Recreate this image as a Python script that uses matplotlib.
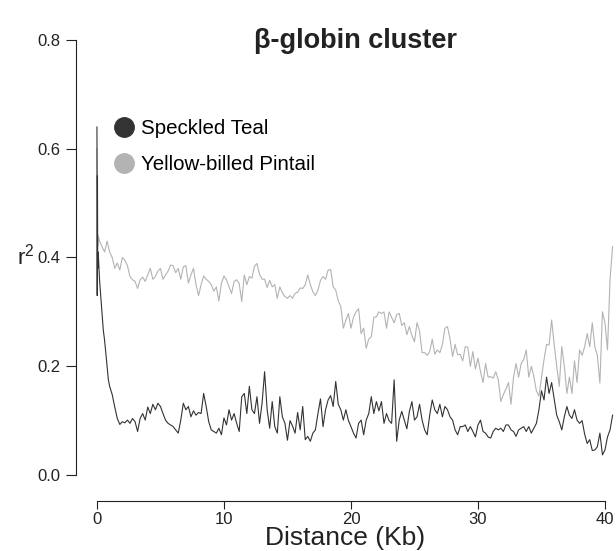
import numpy as np
import matplotlib
matplotlib.use("Agg")
import matplotlib.pyplot as plt
from matplotlib.lines import Line2D

plt.rcParams['font.family'] = ['Liberation Sans', 'DejaVu Sans']
plt.rcParams['mathtext.default'] = 'regular'

# Series labels and colours
species = ["Speckled Teal", "Yellow-billed Pintail"]
colors = ["#333333", "#b3b3b3"]

# First ~2 kb, sampled more finely (distance in Kb)
teal_x_start = [0.0, 0.02, 0.04, 0.06, 0.1, 0.2, 0.3, 0.4, 0.5, 0.6, 0.7, 0.8,
                0.9, 1.0, 1.2, 1.4, 1.6, 1.8]
teal_r2_start = [0.64, 0.33, 0.55, 0.38, 0.41, 0.36, 0.328, 0.297, 0.266, 0.248,
                 0.224, 0.199, 0.175, 0.163, 0.148, 0.125, 0.104, 0.093]

pintail_x_start = [0.0, 0.03, 0.06, 0.1, 0.2, 0.4, 0.6, 0.8, 1.0, 1.2, 1.4, 1.6, 1.8]
pintail_r2_start = [0.60, 0.46, 0.42, 0.44, 0.43, 0.42, 0.41, 0.43, 0.41, 0.40,
                    0.38, 0.39, 0.377]

# Rest of the window, one value every 0.2 Kb from 2.0 to 40.6
grid_x = np.round(np.arange(2.0, 40.61, 0.2), 1)

teal_r2 = [
    0.098, 0.096, 0.101, 0.095, 0.104,  # 2
    0.098, 0.080, 0.104, 0.113, 0.101,  # 3
    0.125, 0.113, 0.130, 0.120, 0.132,  # 4
    0.126, 0.113, 0.101, 0.095, 0.092,  # 5
    0.089, 0.083, 0.077, 0.101, 0.132,  # 6
    0.120, 0.126, 0.107, 0.118, 0.110,  # 7
    0.115, 0.113, 0.150, 0.126, 0.098,  # 8
    0.083, 0.080, 0.077, 0.086, 0.074,  # 9
    0.105, 0.092, 0.120, 0.101, 0.113,  # 10
    0.095, 0.080, 0.144, 0.150, 0.113,  # 11
    0.163, 0.120, 0.113, 0.144, 0.095,  # 12
    0.132, 0.190, 0.120, 0.086, 0.135,  # 13
    0.089, 0.077, 0.144, 0.107, 0.095,  # 14
    0.064, 0.100, 0.090, 0.077, 0.115,  # 15
    0.083, 0.126, 0.065, 0.071, 0.062,  # 16
    0.077, 0.083, 0.113, 0.140, 0.089,  # 17
    0.120, 0.138, 0.146, 0.126, 0.172,  # 18
    0.130, 0.120, 0.101, 0.120, 0.100,  # 19
    0.089, 0.077, 0.068, 0.095, 0.101,  # 20
    0.074, 0.101, 0.113, 0.144, 0.113,  # 21
    0.135, 0.118, 0.135, 0.095, 0.113,  # 22
    0.100, 0.095, 0.175, 0.062, 0.101,  # 23
    0.117, 0.101, 0.085, 0.117, 0.135,  # 24
    0.101, 0.107, 0.130, 0.101, 0.083,  # 25
    0.074, 0.110, 0.138, 0.120, 0.113,  # 26
    0.130, 0.107, 0.126, 0.120, 0.107,  # 27
    0.101, 0.083, 0.074, 0.089, 0.089,  # 28
    0.092, 0.080, 0.089, 0.080, 0.070,  # 29
    0.092, 0.101, 0.080, 0.077, 0.070,  # 30
    0.068, 0.080, 0.086, 0.083, 0.086,  # 31
    0.080, 0.092, 0.092, 0.083, 0.080,  # 32
    0.071, 0.083, 0.086, 0.089, 0.080,  # 33
    0.089, 0.077, 0.086, 0.095, 0.120,  # 34
    0.155, 0.138, 0.180, 0.150, 0.170,  # 35
    0.140, 0.110, 0.098, 0.083, 0.107,  # 36
    0.126, 0.110, 0.104, 0.120, 0.101,  # 37
    0.095, 0.100, 0.075, 0.058, 0.065,  # 38
    0.045, 0.046, 0.052, 0.077, 0.037,  # 39
    0.046, 0.070, 0.083, 0.110,         # 40
]

pintail_r2 = [
    0.400, 0.395, 0.385, 0.365, 0.359,  # 2
    0.356, 0.343, 0.359, 0.364, 0.356,  # 3
    0.368, 0.380, 0.360, 0.365, 0.375,  # 4
    0.380, 0.360, 0.368, 0.375, 0.386,  # 5
    0.385, 0.372, 0.380, 0.360, 0.383,  # 6
    0.385, 0.353, 0.368, 0.380, 0.350,  # 7
    0.330, 0.350, 0.366, 0.360, 0.356,  # 8
    0.350, 0.338, 0.346, 0.320, 0.353,  # 9
    0.366, 0.359, 0.346, 0.334, 0.356,  # 10
    0.359, 0.352, 0.319, 0.368, 0.350,  # 11
    0.365, 0.362, 0.384, 0.389, 0.369,  # 12
    0.360, 0.360, 0.345, 0.358, 0.346,  # 13
    0.350, 0.325, 0.346, 0.335, 0.328,  # 14
    0.325, 0.330, 0.325, 0.334, 0.336,  # 15
    0.344, 0.343, 0.350, 0.368, 0.350,  # 16
    0.337, 0.330, 0.340, 0.358, 0.365,  # 17
    0.360, 0.377, 0.378, 0.346, 0.340,  # 18
    0.320, 0.310, 0.270, 0.285, 0.297,  # 19
    0.270, 0.290, 0.300, 0.306, 0.260,  # 20
    0.270, 0.233, 0.250, 0.254, 0.290,  # 21
    0.291, 0.300, 0.297, 0.300, 0.270,  # 22
    0.300, 0.290, 0.280, 0.295, 0.297,  # 23
    0.275, 0.280, 0.258, 0.273, 0.256,  # 24
    0.245, 0.280, 0.265, 0.225, 0.225,  # 25
    0.220, 0.227, 0.250, 0.222, 0.230,  # 26
    0.225, 0.240, 0.270, 0.273, 0.250,  # 27
    0.218, 0.240, 0.221, 0.222, 0.210,  # 28
    0.236, 0.235, 0.200, 0.227, 0.195,  # 29
    0.215, 0.190, 0.170, 0.205, 0.180,  # 30
    0.181, 0.178, 0.190, 0.175, 0.135,  # 31
    0.148, 0.158, 0.170, 0.130, 0.180,  # 32
    0.205, 0.180, 0.205, 0.212, 0.230,  # 33
    0.180, 0.200, 0.181, 0.155, 0.145,  # 34
    0.178, 0.212, 0.240, 0.239, 0.285,  # 35
    0.240, 0.200, 0.163, 0.236, 0.200,  # 36
    0.150, 0.180, 0.150, 0.210, 0.170,  # 37
    0.230, 0.220, 0.236, 0.260, 0.236,  # 38
    0.280, 0.236, 0.220, 0.169, 0.300,  # 39
    0.280, 0.230, 0.360, 0.420,         # 40
]

teal_x = np.concatenate([teal_x_start, grid_x])
teal_y = np.concatenate([teal_r2_start, teal_r2])
pintail_x = np.concatenate([pintail_x_start, grid_x])
pintail_y = np.concatenate([pintail_r2_start, pintail_r2])

x_ticks = [0, 10, 20, 30, 40]
y_ticks = [0.0, 0.2, 0.4, 0.6, 0.8]

fig = plt.figure(figsize=(6.16, 5.51), dpi=100)
ax = fig.add_axes([76 / 616, 76 / 551, 538.5 / 616, 435 / 551])

ax.plot(pintail_x, pintail_y, color=colors[1], lw=0.8)
ax.plot(teal_x, teal_y, color=colors[0], lw=0.8)

ax.set_xlim(-1.65, 40.75)
ax.set_ylim(0.0, 0.8)

# R style detached axes
for s in ['top', 'right']:
    ax.spines[s].set_visible(False)
ax.spines['bottom'].set_position(('outward', 19.0))
ax.spines['bottom'].set_bounds(0, 40)
ax.spines['left'].set_bounds(0, 0.8)
for s in ['bottom', 'left']:
    ax.spines[s].set_linewidth(0.8)
    ax.spines[s].set_color('#222222')

ax.set_xticks(x_ticks)
ax.set_xticklabels([str(t) for t in x_ticks])
ax.set_yticks(y_ticks)
ax.set_yticklabels([f"{t:.1f}" for t in y_ticks])
ax.tick_params(axis='both', direction='out', width=0.8, color='#222222',
               labelsize=12, labelcolor='#222222')
ax.tick_params(axis='x', length=5.5, pad=2)
ax.tick_params(axis='y', length=7, pad=4)

ax.set_xlabel("Distance (Kb)", fontsize=19, color='#222222')
ax.xaxis.set_label_coords(0.5, -(538 - 475) / 435)
ax.xaxis.label.set_va('center')
ax.set_ylabel("r$^2$", fontsize=16, rotation=0, color='#222222')
ax.yaxis.set_label_coords((26 - 76) / 538.5, (475 - 257) / 435)
ax.yaxis.label.set_va('center')
ax.yaxis.label.set_ha('center')

fig.text(355 / 616, 1 - 41 / 551, "β-globin cluster", ha='center', va='center',
         fontsize=19.5, fontweight='bold', color='#222222')

handles = [Line2D([], [], marker='o', linestyle='', markersize=14,
                  color=c, label=lab) for c, lab in zip(colors, species)]
ax.legend(handles=handles, loc='upper left', bbox_to_anchor=(114 / 616, 1 - 119 / 551),
          bbox_transform=fig.transFigure, frameon=False, fontsize=14.8,
          handlelength=1.0, handletextpad=0.3, labelspacing=0.85, borderpad=0,
          borderaxespad=0)

fig.savefig("out.png", dpi=100)
